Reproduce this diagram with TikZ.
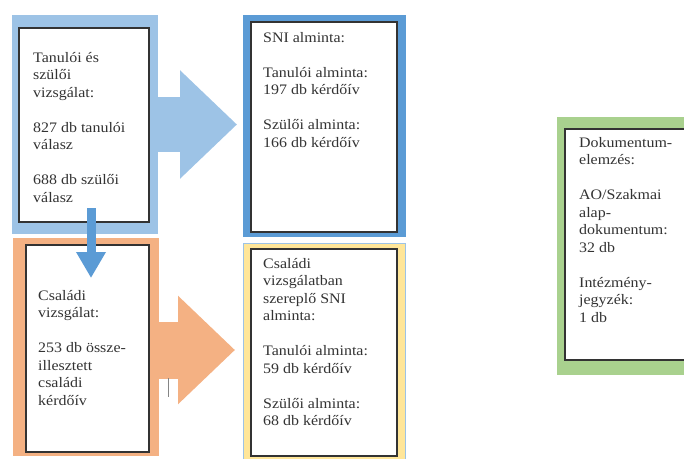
\documentclass[tikz,border=0pt]{standalone}
\usepackage{fontspec}
\setmainfont{Liberation Serif}[FakeStretch=1.1]
\usetikzlibrary{arrows.meta}

\definecolor{paleblue}{HTML}{9DC3E6}
\definecolor{midblue}{HTML}{5B9BD5}
\definecolor{salmon}{HTML}{F4B183}
\definecolor{sand}{HTML}{FFE699}
\definecolor{leaf}{HTML}{A9D18E}
\definecolor{ink}{HTML}{333333}

\begin{document}
\begin{tikzpicture}[x=1pt,y=-1pt,
    panel/.style={anchor=north west,inner sep=0pt,outer sep=0pt},
    inbox/.style={anchor=north west,draw=ink,fill=white,line width=1.4pt,
                  inner sep=0pt,outer sep=0pt},
    txt/.style={anchor=north west,inner sep=0pt,align=left,text=ink,
                font=\fontsize{14.5}{17.5}\selectfont},
    fatarrow/.style={line width=55pt,-{Triangle[length=57pt,width=105pt]}}]
  \useasboundingbox (0,0) rectangle (684,458);
  \clip (0,0) rectangle (684,458);

  % panels
  \node[panel,fill=paleblue,minimum width=146,minimum height=219] (survpanel) at (12,15) {};
  \node[panel,fill=midblue,minimum width=163,minimum height=222]  (snipanel)  at (243,15) {};
  \node[panel,fill=salmon,minimum width=146,minimum height=218]   (fampanel)  at (13,238) {};
  \node[panel,fill=sand,draw=paleblue,line width=.8pt,minimum width=162,minimum height=220]
                                                                   (subpanel)  at (243,243) {};
  \node[panel,fill=leaf,minimum width=140,minimum height=258]     (docpanel)  at (557,117) {};

  % boxes
  \node[inbox,minimum width=130,minimum height=194] (survbox) at (19,28) {};
  \node[inbox,minimum width=146,minimum height=210] (snibox)  at (251,22) {};
  \node[inbox,minimum width=123,minimum height=207] (fambox)  at (26,245) {};
  \node[inbox,minimum width=146,minimum height=207] (subbox)  at (251,249) {};
  \node[inbox,minimum width=135,minimum height=231] (docbox)  at (565,129) {};

  % texts
  \node[txt] (survtext) at (33,52)
    {Tanulói és\\szülői\\vizsgálat:\\[17.5pt]827 db tanulói\\válasz\\[17.5pt]688 db szülői\\válasz};
  \node[txt] (snitext) at (263,32)
    {SNI alminta:\\[17.5pt]Tanulói alminta:\\197 db kérdőív\\[17.5pt]Szülői alminta:\\166 db kérdőív};
  \node[txt] (famtext) at (38,290)
    {Családi\\vizsgálat:\\[17.5pt]253 db össze-\\illesztett\\családi\\kérdőív};
  \node[txt] (subtext) at (263,258)
    {Családi\\vizsgálatban\\szereplő SNI\\alminta:\\[17.5pt]Tanulói alminta:\\59 db kérdőív\\[17.5pt]Szülői alminta:\\68 db kérdőív};
  \node[txt] (doctext) at (579,137)
    {Dokumentum-\\elemzés:\\[17.5pt]AO/Szakmai\\alap-\\dokumentum:\\32 db\\[17.5pt]Intézmény-\\jegyzék:\\1 db};

  % arrows
  \draw[fatarrow,paleblue,shorten >=6pt] (survpanel.east) -- (survpanel.east -| snipanel.west);
  \draw[fatarrow,salmon,line width=57pt,shorten >=8pt]
    ([yshift=-3pt]fampanel.east) -- ([yshift=-3pt]fampanel.east -| subpanel.west);
  \draw[midblue,line width=9pt,-{Triangle[length=26pt,width=28pt]}]
    ([xshift=7pt,yshift=14pt]survbox.south) -- ([xshift=3.5pt,yshift=-33pt]fambox.north);
  \draw[ink!60,line width=1pt] (168,378) -- (168,397);
\end{tikzpicture}
\end{document}
